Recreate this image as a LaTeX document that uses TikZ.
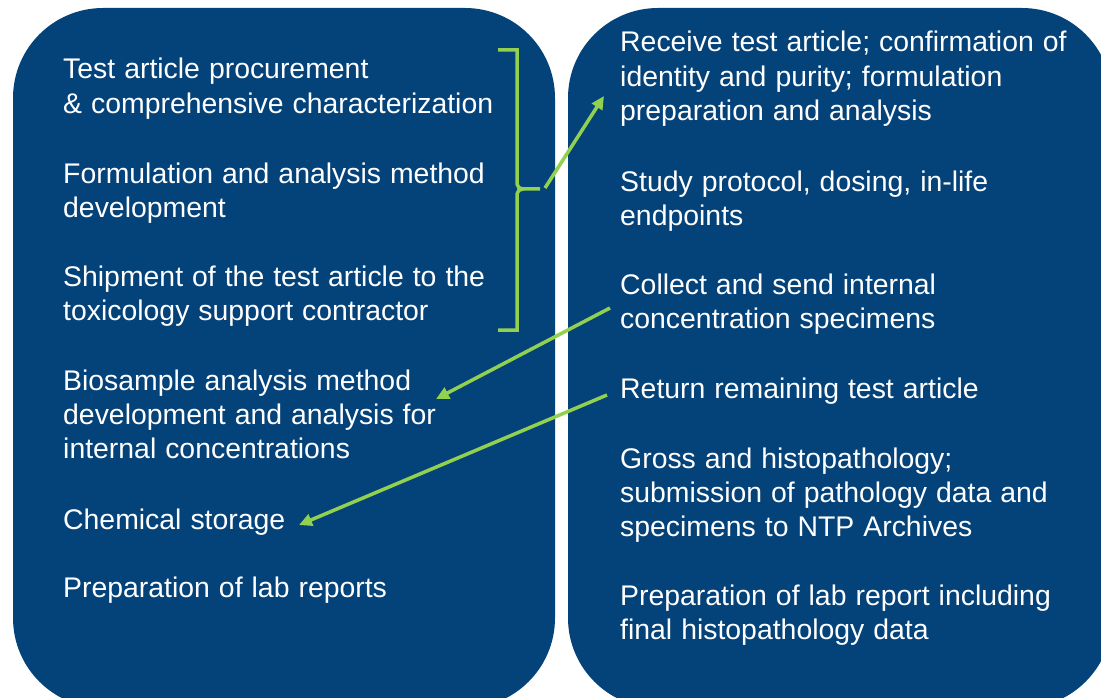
\documentclass[tikz,border=0pt]{standalone}
\usepackage{fontspec}
\setmainfont{Liberation Sans}
\usetikzlibrary{arrows.meta}
\definecolor{panelblue}{RGB}{4,66,122}
\definecolor{linkgreen}{RGB}{146,208,80}
\newcommand\panelfont{\fontsize{28.4}{34.4}\selectfont\spaceskip=9pt plus 3pt minus 1pt\relax}
\begin{document}
\begin{tikzpicture}[x=1pt,y=-1pt,
  panel/.style={fill=panelblue, rounded corners=90pt},
  txt/.style={text=white, font=\panelfont, align=left, anchor=base west, inner sep=0pt},
  link/.style={draw=linkgreen, line width=3.5pt, -{Triangle[length=13pt,width=12pt]}},
  bracket/.style={draw=linkgreen, line width=3.5pt}]
\useasboundingbox (0,0) rectangle (1101,698);
\clip (0,0) rectangle (1101,698);
\path[panel] (13,8) rectangle (555,708);
\path[panel] (568,8) rectangle (1112,708);

% left column (anchor = baseline of last line)
\node[txt] (l1) at (63,113.4) {Test article procurement\\\& comprehensive characterization};
\node[txt] (l2) at (63,217.4) {Formulation and analysis method\\development};
\node[txt] (l3) at (63,320.4) {Shipment of the test article to the\\toxicology support contractor};
\node[txt] (l4) at (63,458.8) {Biosample analysis method\\development and analysis for\\internal concentrations};
\node[txt] (l5) at (63,529) {Chemical storage};
\node[txt] (l6) at (63,597) {Preparation of lab reports};

% right column
\node[txt] (r1) at (620,120.8) {Receive test article; confirmation of\\identity and purity; formulation\\preparation and analysis};
\node[txt] (r2) at (620,225.4) {Study protocol, dosing, in-life\\endpoints};
\node[txt] (r3) at (620,328.4) {Collect and send internal\\concentration specimens};
\node[txt] (r4) at (620,398) {Return remaining test article};
\node[txt] (r5) at (620,536.8) {Gross and histopathology;\\submission of pathology data and\\specimens to NTP Archives};
\node[txt] (r6) at (620,639.4) {Preparation of lab report including\\final histopathology data};

% bracket
\coordinate (bt) at (498,50);
\coordinate (bb) at (498,330);
\coordinate (bc) at (523,189);
\coordinate (bm) at (540,189);
\path[bracket] (bt) -- (517,50) -- (517,184) to[out=-90,in=180] (bc) -- (bm)
  (bc) to[in=90,out=180] (517,194) -- (517,330) -- (bb);

% connectors
\coordinate (a1s) at (545,188);
\coordinate (a1e) at (604,96);
\coordinate (a2s) at (610,308);
\coordinate (a2e) at (436,399);
\coordinate (a3s) at (607,395);
\coordinate (a3e) at (299,525);
\draw[link] (a1s) -- (a1e);
\draw[link] (a2s) -- (a2e);
\draw[link] (a3s) -- (a3e);
\end{tikzpicture}
\end{document}
